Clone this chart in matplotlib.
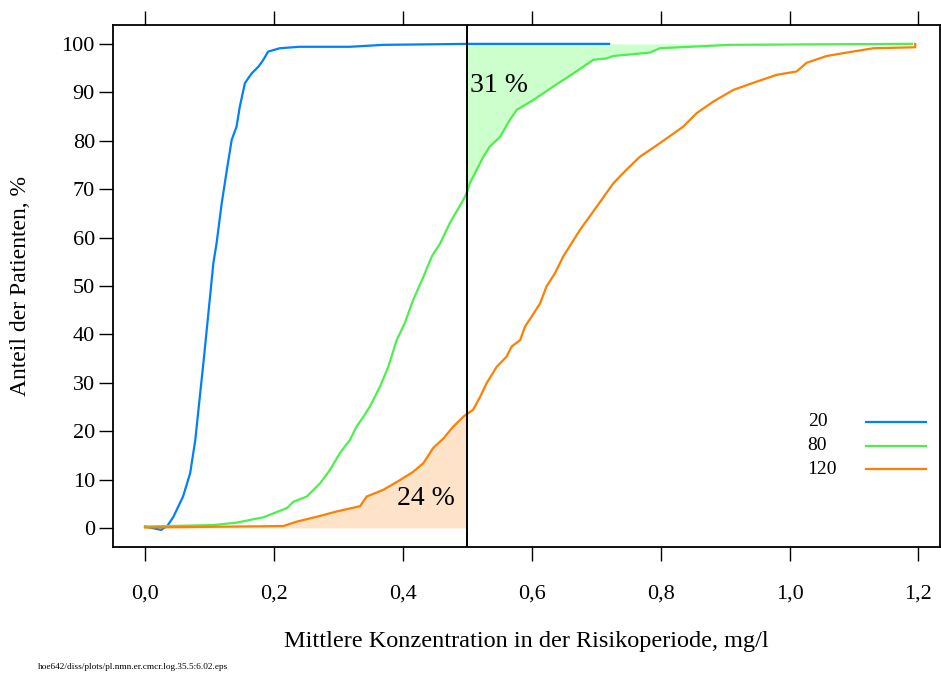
import numpy as np
import matplotlib
matplotlib.use('Agg')
import matplotlib.pyplot as plt

plt.rcParams['font.family'] = ['Liberation Serif', 'DejaVu Serif']

# Kumulative Anteile (x = mittlere Konzentration, y = Anteil der Patienten in %)
x_20 = [0.0, 0.025, 0.035, 0.044, 0.059, 0.070, 0.078, 0.085, 0.0905, 0.0957, 0.1009,
        0.106, 0.111, 0.119, 0.127, 0.1345, 0.142, 0.147, 0.155, 0.1655, 0.176, 0.1835,
        0.191, 0.209, 0.24, 0.318, 0.37, 0.5, 0.72]
y_20 = [0.3, -0.4, 0.5, 2.3, 6.5, 11.3, 18.2, 27.1, 34.0, 40.9, 47.8,
        54.7, 58.8, 67.1, 74.0, 80.2, 82.9, 87.0, 91.9, 93.9, 95.3, 96.7,
        98.4, 99.1, 99.4, 99.4, 99.8, 100.0, 100.0]

x_80 = [0.0, 0.106, 0.142, 0.1835, 0.22, 0.23, 0.251, 0.2715, 0.287, 0.3025, 0.318,
        0.328, 0.339, 0.349, 0.3646, 0.3775, 0.3905, 0.403, 0.416, 0.432, 0.445,
        0.458, 0.473, 0.494, 0.5, 0.504, 0.525, 0.535, 0.551, 0.566, 0.577, 0.6025,
        0.6335, 0.6646, 0.6956, 0.716, 0.727, 0.7835, 0.799, 0.846, 0.9077, 1.17, 1.19]
y_80 = [0.3, 0.6, 1.1, 2.2, 4.1, 5.4, 6.5, 9.2, 12.0, 15.5, 18.2,
        20.9, 23.0, 25.1, 29.2, 33.3, 38.8, 42.3, 47.1, 51.9, 56.1,
        58.8, 63.0, 67.8, 69.5, 71.2, 76.7, 78.8, 80.8, 84.3, 86.4, 88.4,
        91.2, 93.9, 96.7, 97.0, 97.5, 98.2, 99.1, 99.4, 99.8, 100.0, 100.0]

x_120 = [0.0, 0.2146, 0.235, 0.266, 0.297, 0.3336, 0.344, 0.37, 0.3957, 0.416, 0.432,
         0.447, 0.463, 0.478, 0.494, 0.5, 0.509, 0.52, 0.53, 0.5457, 0.561, 0.569,
         0.582, 0.5896, 0.6, 0.613, 0.623, 0.636, 0.649, 0.675, 0.701, 0.7266, 0.747,
         0.768, 0.799, 0.835, 0.856, 0.882, 0.913, 0.949, 0.98, 1.011, 1.0266, 1.0577,
         1.0888, 1.13, 1.195, 1.195]
y_120 = [0.1, 0.4, 1.3, 2.3, 3.4, 4.5, 6.5, 7.9, 9.9, 11.6, 13.4,
         16.5, 18.5, 20.9, 23.0, 23.6, 24.4, 27.1, 29.9, 33.3, 35.4, 37.5,
         38.8, 41.6, 43.7, 46.4, 49.9, 52.6, 56.1, 61.6, 66.4, 71.2, 74.0,
         76.7, 79.5, 82.9, 85.7, 88.1, 90.5, 92.2, 93.6, 94.3, 96.1, 97.5,
         98.2, 99.1, 99.3, 100.0]

groups = ['20', '80', '120']
colors = ['#0080ff', '#4cf04c', '#ff7f00']
grenze = 0.5
anteil_ueber = '31 %'
anteil_unter = '24 %'

x_ticks = [0.0, 0.2, 0.4, 0.6, 0.8, 1.0, 1.2]
x_ticklabels = ['0,0', '0,2', '0,4', '0,6', '0,8', '1,0', '1,2']
y_ticks = list(range(0, 101, 10))

fig = plt.figure(figsize=(9.41, 6.75), dpi=100)
ax = fig.add_axes([113 / 941, 128 / 675, 827 / 941, 522 / 675])

# Flaechen: Anteil ueber bzw. unter der Grenze
x80 = np.array(x_80)
y80 = np.array(y_80)
m = x80 >= grenze
ax.fill_between(x80[m], y80[m], 100, color='#ccffcc', lw=0)

x120 = np.array(x_120)
y120 = np.array(y_120)
m = x120 <= grenze
ax.fill_between(x120[m], 0, y120[m], color='#ffe3c8', lw=0)

ax.plot(x_20, y_20, color=colors[0], lw=1.6)
ax.plot(x_80, y_80, color=colors[1], lw=1.6)
ax.plot(x_120, y_120, color=colors[2], lw=1.6)

ax.axvline(grenze, color='black', lw=1.4)

ax.text(0.505, 91.5, anteil_ueber, fontsize=20, ha='left', va='center')
ax.text(0.481, 6.0, anteil_unter, fontsize=20, ha='right', va='center')

# Legende wie im Original: Text links, Linie rechts
leg_y = [0.2395, 0.1935, 0.1494]
for g, c, yy in zip(groups, colors, leg_y):
    ax.text(0.840, yy, g, transform=ax.transAxes, fontsize=14, ha='left', va='center')
    ax.plot([0.9105, 0.983], [yy, yy], transform=ax.transAxes, color=c, lw=1.6)

ax.set_xlim(-0.0497, 1.2335)
ax.set_ylim(-3.93, 103.9)
ax.set_xticks(x_ticks)
ax.set_xticklabels(x_ticklabels)
ax.set_yticks(y_ticks)
ax.tick_params(axis='x', top=True, bottom=True, direction='out', length=10, width=1,
               labelsize=16, pad=17)
ax.tick_params(axis='y', left=True, right=False, direction='out', length=10, width=1,
               labelsize=16, pad=3)
for s in ax.spines.values():
    s.set_linewidth(1.3)

ax.set_xlabel('Mittlere Konzentration in der Risikoperiode, mg/l', fontsize=17.5, labelpad=20)
ax.set_ylabel('Anteil der Patienten, %', fontsize=17, labelpad=22)

fig.text(38 / 941, 8 / 675, 'hoe642/diss/plots/pl.nmn.er.cmcr.log.35.5:6.02.eps',
         fontsize=6.7, ha='left', va='center')

fig.savefig('out.png', dpi=100)
